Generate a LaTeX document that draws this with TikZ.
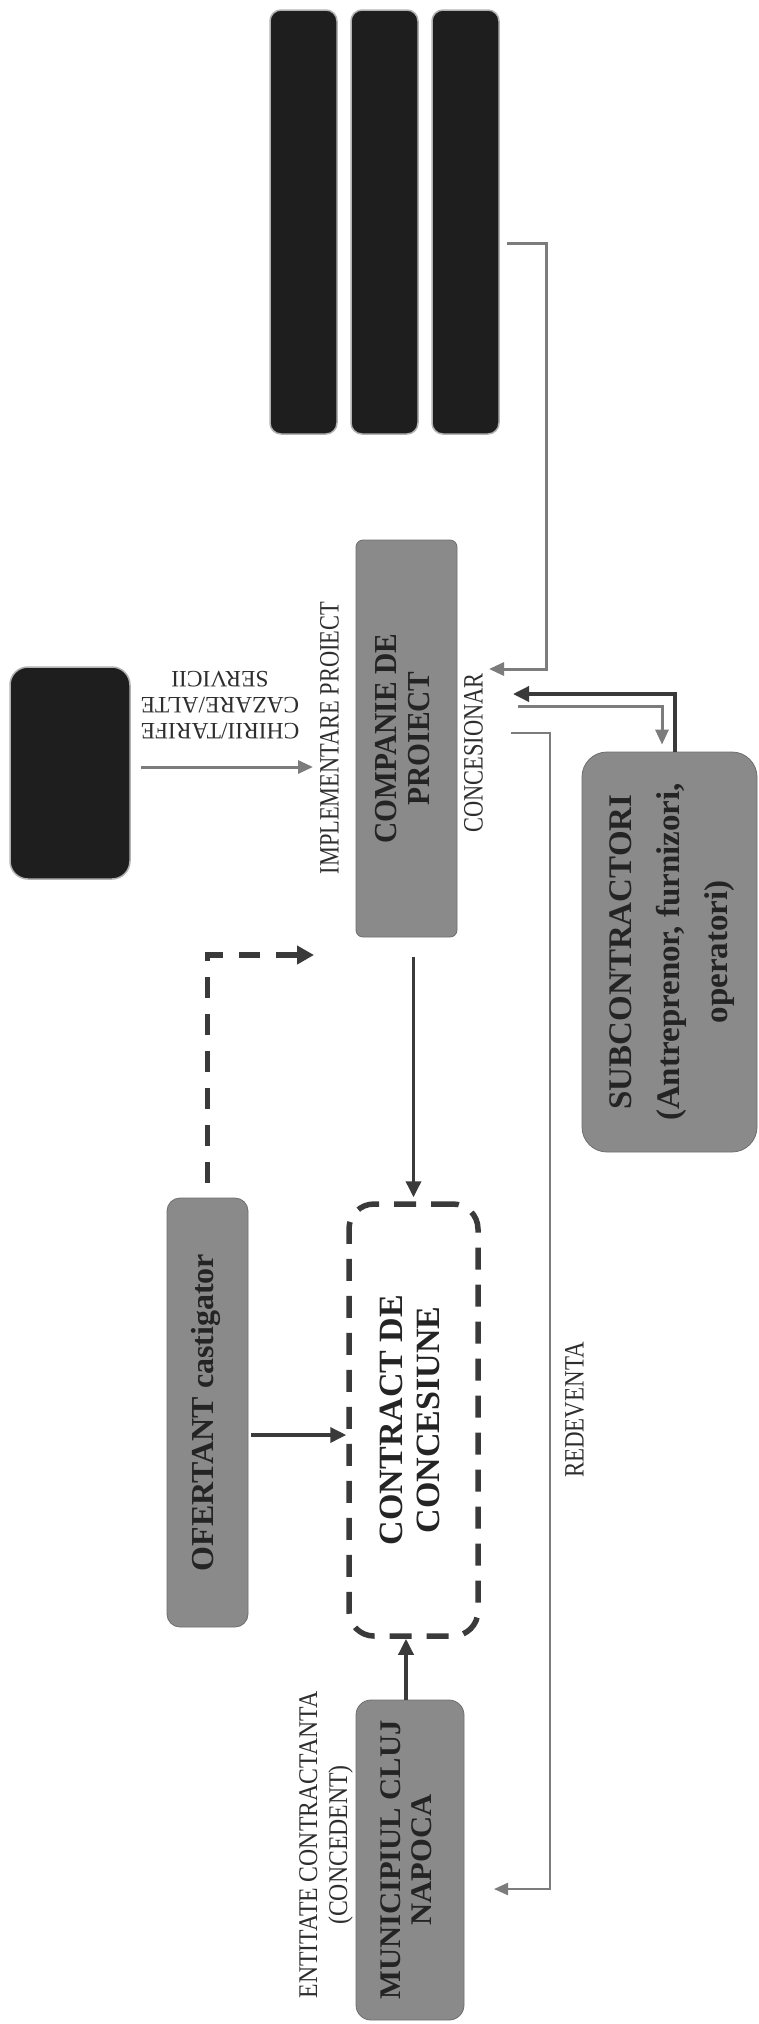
\documentclass[tikz,border=0pt]{standalone}
\usepackage{fontspec}
\setmainfont{Liberation Serif}
\usepackage{graphicx}
\usetikzlibrary{arrows.meta,calc}
\definecolor{boxgray}{HTML}{8A8A8A}
\definecolor{boxtext}{HTML}{242424}
\definecolor{blackbox}{HTML}{1E1E1E}
\definecolor{darkline}{HTML}{3A3A3A}
\definecolor{grayline}{HTML}{7C7C7C}
\definecolor{lbltext}{HTML}{2E2E2E}
\newcommand{\rtx}[6]{\rotatebox{#1}{\scalebox{#4}[1]{\fontsize{#2}{#3}\selectfont#5\begin{tabular}{@{}c@{}}#6\end{tabular}}}}
\tikzset{
  graybox/.style={rectangle, fill=boxgray, draw=boxgray!80!black, line width=0.8pt, inner sep=0pt, text=boxtext},
  blkbox/.style={rectangle, fill=blackbox, draw=gray!60, line width=1.5pt, inner sep=0pt},
  dashbox/.style={rectangle, draw=darkline, line width=5.5pt, dash pattern=on 22pt off 15pt, inner sep=0pt, text=boxtext},
  lbl/.style={inner sep=0pt, text=lbltext},
  grayarrow/.style={draw=grayline, line width=3pt, -{Triangle[length=15pt,width=13pt]}},
  graythin/.style={draw=grayline, line width=2.2pt, -{Triangle[length=14pt,width=12pt]}},
  darkarrow/.style={draw=darkline, line width=3.5pt, -{Triangle[length=16pt,width=15pt]}},
  dasharrow/.style={draw=darkline, line width=5.5pt, dash pattern=on 21pt off 16pt, -{Triangle[length=17pt,width=18pt]}},
}
\begin{document}
\begin{tikzpicture}[x=1pt,y=-1pt]
\useasboundingbox (0,0) rectangle (759,2024);
\fill[white] (0,0) rectangle (759,2024);
% black bars
\node[blkbox, rounded corners=11pt, minimum width=67pt, minimum height=424pt] (bar1) at (303.5,222) {};
\node[blkbox, rounded corners=11pt, minimum width=67pt, minimum height=424pt] (bar2) at (384.5,222) {};
\node[blkbox, rounded corners=11pt, minimum width=67pt, minimum height=424pt] (bar3) at (465.5,222) {};
\node[blkbox, rounded corners=18pt, minimum width=120pt, minimum height=212pt] (leftbox) at (70,773) {};
% gray boxes
\node[graybox, rounded corners=7pt, minimum width=101pt, minimum height=397pt] (comp) at (406.5,738.5)
  {\rtx{90}{32}{33}{0.92}{\bfseries}{COMPANIE DE\\PROIECT}};
\node[graybox, rounded corners=25pt, minimum width=175pt, minimum height=400pt] (sub) at (669.5,952)
  {\rtx{90}{33}{48}{1.0}{\bfseries}{SUBCONTRACTORI\\(Antreprenor, furnizori,\\operatori)}};
\node[graybox, rounded corners=13pt, minimum width=81pt, minimum height=429pt] (ofer) at (207.5,1412.5)
  {\rtx{90}{32}{32}{1}{\bfseries}{OFERTANT castigator}};
\node[dashbox, rounded corners=25pt, minimum width=129pt, minimum height=432pt] (contr) at (413.5,1420)
  {\rtx{90}{34}{37}{1.0}{\bfseries}{CONTRACT DE\\CONCESIUNE}};
\node[graybox, rounded corners=15pt, minimum width=108pt, minimum height=320pt] (mun) at (410,1860)
  {\rtx{90}{30}{31}{1.02}{\bfseries}{MUNICIPIUL CLUJ\\NAPOCA}};
% labels
\node[lbl] (chirii) at (220,703) {\rtx{180}{23.5}{26}{1}{}{CHIRII/TARIFE\\CAZARE/ALTE\\SERVICII}};
\node[lbl] (impl) at (333,738) {\rtx{90}{28}{28}{0.8}{}{IMPLEMENTARE PROIECT}};
\node[lbl] (conc) at (477,753) {\rtx{90}{28}{28}{0.8}{}{CONCESIONAR}};
\node[lbl] (redev) at (578,1410) {\rtx{90}{28}{28}{0.82}{}{REDEVENTA}};
\node[lbl] (entit) at (326,1845) {\rtx{90}{27}{30}{0.88}{}{ENTITATE CONTRACTANTA\\(CONCEDENT)}};
% coordinates for free ends
\coordinate (b3out) at (507,243);
\coordinate (compin1) at (489,669);
\coordinate (compin2) at (513,694);
\coordinate (compout2) at (518,706);
\coordinate (compout3) at (511,733);
\coordinate (munin) at (494,1889);
\coordinate (compin0) at (313,767);
\coordinate (compin4) at (314,955);
% connectors
\draw[grayarrow] (b3out) -- ++(39,0) |- (compin1);
\draw[darkarrow] ([xshift=5.5pt]sub.north) |- (compin2);
\draw[grayarrow] (compout2) -| ([xshift=-7.5pt,yshift=7pt]sub.north);
\draw[graythin] (compout3) -- ++(39,0) |- (munin);
\draw[grayarrow] ([xshift=10pt,yshift=6pt]leftbox.east) -- (compin0);
\draw[dasharrow, shorten <=15pt] (ofer.north) |- (compin4);
\draw[darkarrow, shorten <=20pt, shorten >=4pt] (comp.south -| contr.north) -- (contr.north);
\draw[darkarrow, shorten <=3pt] ([yshift=-22.5pt]ofer.east) -- ([yshift=-22.5pt]ofer.east -| contr.west);
\draw[darkarrow] ([xshift=-4pt]mun.north) -- ([xshift=-4pt]mun.north |- contr.south);
\end{tikzpicture}
\end{document}
